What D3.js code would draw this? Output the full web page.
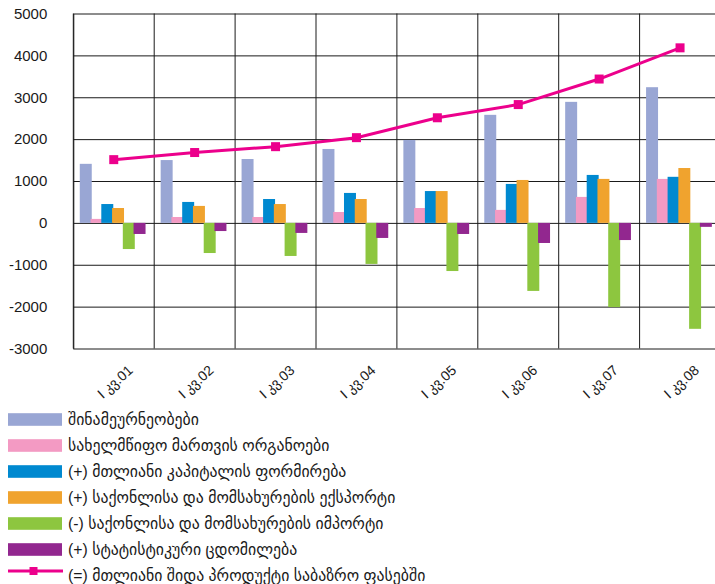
<!DOCTYPE html>
<html>
<head>
<meta charset="utf-8">
<script src="https://cdn.jsdelivr.net/npm/d3@7"></script>
<style>
  body { margin: 0; background: #fff; }
  svg text { font-family: "Liberation Sans", "DejaVu Sans", sans-serif; fill: #1a1a1a; }
</style>
</head>
<body>
<svg id="chart" width="715" height="584"></svg>
<script>
// Quarterly GDP by expenditure components (mln GEL), first quarters 2001–2008
const quarters = ["I კვ.01", "I კვ.02", "I კვ.03", "I კვ.04", "I კვ.05", "I კვ.06", "I კვ.07", "I კვ.08"];

const households       = [1410, 1500, 1525, 1765, 1980, 2580, 2890, 3240];
const government       = [95, 140, 140, 260, 355, 310, 620, 1050];
const capitalFormation = [450, 500, 570, 715, 760, 930, 1145, 1100];
const exportsGS        = [355, 405, 450, 570, 760, 1025, 1050, 1310];
const importsGS        = [-625, -720, -790, -980, -1150, -1625, -2010, -2530];
const discrepancy      = [-265, -195, -240, -360, -265, -480, -410, -95];
const gdp              = [1510, 1680, 1820, 2035, 2510, 2825, 3435, 4180];

const yTicks = [5000, 4000, 3000, 2000, 1000, 0, -1000, -2000, -3000];

const barSeries = [
  { name: "შინამეურნეობები", values: households, color: "#99a6d4" },
  { name: "სახელმწიფო მართვის ორგანოები", values: government, color: "#f39ac3" },
  { name: "(+) მთლიანი კაპიტალის ფორმირება", values: capitalFormation, color: "#0089d0" },
  { name: "(+) საქონლისა და მომსახურების ექსპორტი", values: exportsGS, color: "#f0a32e" },
  { name: "(-) საქონლისა და მომსახურების იმპორტი", values: importsGS, color: "#8dc63f" },
  { name: "(+) სტატისტიკური ცდომილება", values: discrepancy, color: "#92278f" }
];
const lineSeries = { name: "(=) მთლიანი შიდა პროდუქტი საბაზრო ფასებში", values: gdp, color: "#ec008c" };

const svg = d3.select("#chart");
const plot = { left: 73.3, right: 720.5, top: 13.5, bottom: 348.5 };

const x = d3.scaleBand().domain(quarters).range([plot.left, plot.right]).padding(0);
const y = d3.scaleLinear().domain([-3000, 5000]).range([plot.bottom, plot.top]);
const bw = x.bandwidth();

// bar placement inside each quarter: slightly overlapping columns
const barW = bw * 0.148;
const barStep = bw * 0.133;
const barOffset = bw * 0.08;

// horizontal grid + y labels
const yAxis = d3.axisLeft(y)
  .tickValues(yTicks)
  .tickSize(-(plot.right - plot.left))
  .tickSizeOuter(0)
  .tickPadding(26)
  .tickFormat(d => String(d));

const gy = svg.append("g")
  .attr("transform", `translate(${plot.left},0)`)
  .call(yAxis);
gy.select(".domain").attr("stroke", "#1a1a1a");
gy.selectAll(".tick line").attr("stroke", "#1a1a1a").attr("stroke-width", 1);
gy.selectAll(".tick text").attr("font-size", 15).attr("fill", "#1a1a1a");

// vertical grid lines at quarter boundaries
const bounds = quarters.map(q => x(q)).concat([x(quarters[quarters.length - 1]) + bw]);
svg.append("g").selectAll("line")
  .data(bounds)
  .join("line")
  .attr("x1", d => d).attr("x2", d => d)
  .attr("y1", plot.top).attr("y2", plot.bottom)
  .attr("stroke", "#1a1a1a").attr("stroke-width", 1);

// bars
barSeries.forEach((s, i) => {
  svg.append("g").selectAll("rect")
    .data(s.values.map((v, j) => ({ q: quarters[j], v })))
    .join("rect")
    .attr("x", d => x(d.q) + barOffset + i * barStep)
    .attr("width", barW)
    .attr("y", d => y(Math.max(0, d.v)))
    .attr("height", d => Math.abs(y(d.v) - y(0)))
    .attr("fill", s.color);
});

// GDP line with square markers
const line = d3.line()
  .x((d, j) => x(quarters[j]) + bw / 2)
  .y(d => y(d));
svg.append("path")
  .datum(lineSeries.values)
  .attr("d", line)
  .attr("fill", "none")
  .attr("stroke", lineSeries.color)
  .attr("stroke-width", 3);
const mk = 9;
svg.append("g").selectAll("rect")
  .data(lineSeries.values)
  .join("rect")
  .attr("x", (d, j) => x(quarters[j]) + bw / 2 - mk / 2)
  .attr("y", d => y(d) - mk / 2)
  .attr("width", mk).attr("height", mk)
  .attr("fill", lineSeries.color);

// x labels, rotated
const xAxis = d3.axisBottom(x).tickSize(0).tickSizeOuter(0);
const gx = svg.append("g")
  .attr("transform", `translate(0,${plot.bottom})`)
  .call(xAxis);
gx.select(".domain").remove();
gx.selectAll(".tick text")
  .attr("font-size", 14)
  .attr("x", 0).attr("y", 0).attr("dy", 0)
  .attr("text-anchor", "end")
  .attr("transform", "translate(20,23) rotate(-42)");

// legend
const legend = svg.append("g");
const rowY = i => 419.5 + i * 26;
const legendFont = 15.8;
barSeries.forEach((s, i) => {
  legend.append("rect")
    .attr("x", 8).attr("y", rowY(i) - 6.3)
    .attr("width", 54).attr("height", 12.6)
    .attr("fill", s.color);
  legend.append("text")
    .attr("x", 68).attr("y", rowY(i) + 5.5)
    .attr("font-size", legendFont)
    .text(s.name);
});
const lineRowY = 571;
legend.append("line")
  .attr("x1", 8).attr("x2", 63)
  .attr("y1", lineRowY).attr("y2", lineRowY)
  .attr("stroke", lineSeries.color).attr("stroke-width", 3);
legend.append("rect")
  .attr("x", 33.5 - 4).attr("y", lineRowY - 4)
  .attr("width", 8).attr("height", 8)
  .attr("fill", lineSeries.color);
legend.append("text")
  .attr("x", 68).attr("y", lineRowY + 9.5)
  .attr("font-size", legendFont)
  .text(lineSeries.name);
</script>
</body>
</html>
